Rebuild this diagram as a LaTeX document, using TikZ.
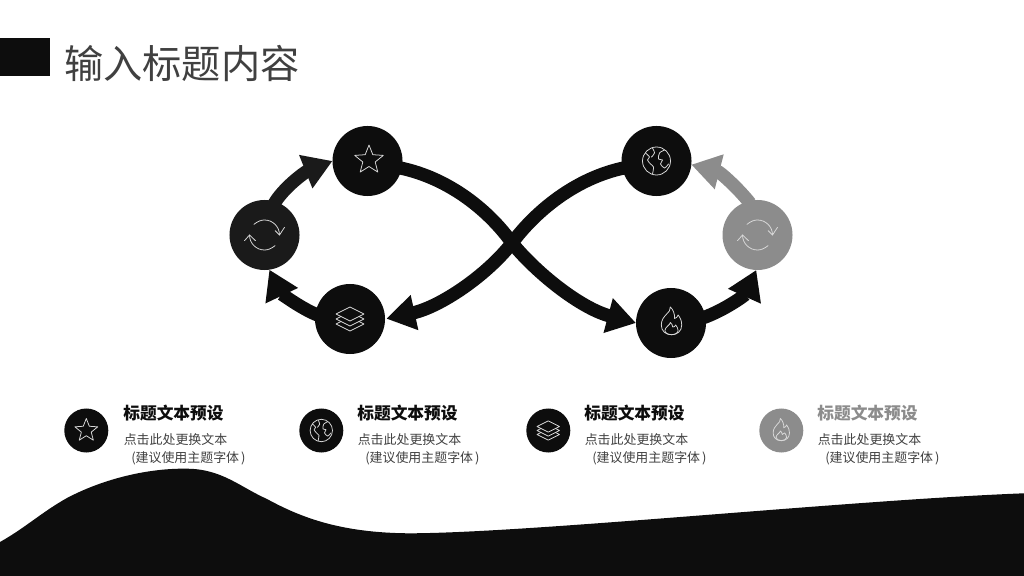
\documentclass[tikz,border=0pt]{standalone}
\usepackage{fontspec}
\setmainfont{Noto Sans CJK SC}
\usetikzlibrary{arrows.meta}
\definecolor{ink}{HTML}{0D0D0D}
\definecolor{inksoft}{HTML}{1A1A1A}
\definecolor{midgray}{HTML}{8C8C8C}
\definecolor{textgray}{HTML}{404040}
\tikzset{
	disc/.style={circle,fill=#1,minimum size=1.75cm,inner sep=0pt,outer sep=0pt},
	smalldisc/.style={circle,fill=#1,minimum size=1.1cm,inner sep=0pt,outer sep=0pt},
	loopline/.style={draw=#1,line width=.33cm,shorten <=-2pt,-{Triangle[length=.72cm,width=.85cm]}},
	bandline/.style={draw=ink,line width=.33cm,shorten <=-2pt},
	glyph/.style={draw=#1,line width=.55pt,line join=round,line cap=round},
	glyph/.default={white!85!black},
	pics/icostar/.style={code={
		\draw[glyph] (0,-15)--(3.8,-5.3)--(14.3,-4.6)--(6.2,2)--(8.8,12.1)--(0,6.5)--(-8.8,12.1)--(-6.2,2)--(-14.3,-4.6)--(-3.8,-5.3)--cycle;
	}},
	pics/icoloop/.style={code={
		\draw[glyph] (-10.6,-10.6) .. controls (-6.5,-14) and (-3,-15) .. (0,-15) .. controls (8.3,-15) and (15,-8.3) .. (15,0);
		\draw[glyph] (10.7,-4.3)--(15,0)--(20,-7.7);
		\draw[glyph] (10.6,10.6) .. controls (6.5,14) and (3,15) .. (0,15) .. controls (-8.3,15) and (-15,8.3) .. (-15,0);
		\draw[glyph] (-20,5.7)--(-15,0)--(-9,5.7);
	}},
	pics/icolayers/.style={code={
		\draw[glyph] (0,-12)--(14,-5)--(0,2)--(-14,-5)--cycle;
		\draw[glyph] (-9,-2.5)--(-14,0)--(0,7)--(14,0)--(9,-2.5);
		\draw[glyph] (-9,2.5)--(-14,5)--(0,12)--(14,5)--(9,2.5);
	}},
	pics/icoglobe/.style={code={
		\draw[glyph] (0,0) circle (14);
		\draw[glyph] plot[smooth] coordinates {(-11,-8) (-7,-4) (-9,-1) (-6,3) (-3,6) (-4,13)};
		\draw[glyph] plot[smooth] coordinates {(-4,-13) (-2,-8) (-5,-4)};
		\draw[glyph] plot[smooth] coordinates {(8,-11) (3,-8) (2,-2) (6,-1) (4,3) (8,7) (12,3)};
	}},
	pics/icoflame/.style={code={
		\begin{scope}[xscale=1.2]
		\draw[glyph] (-1,-15) .. controls (0,-9) and (-8.5,-7) .. (-8.5,3) .. controls (-8.5,9) and (-5,12.7) .. (0,12.7) .. controls (5,12.7) and (8.5,9) .. (8.5,3) .. controls (8.5,-1) and (7.5,-4) .. (5.5,-7) .. controls (5,-5) and (4,-4) .. (2.5,-3.5) .. controls (3,-8) and (1,-13) .. (-1,-15);
		\draw[glyph] (-1,0.5) .. controls (-1,3) and (-5.5,5) .. (-5.5,8.5) .. controls (-5.5,11) and (-3,12.7) .. (0,12.7) .. controls (3,12.7) and (5.5,11) .. (5.5,8.5) .. controls (5.5,6.5) and (4.5,4.5) .. (3.5,3) .. controls (3,4.5) and (2,5) .. (1,5) .. controls (1,3) and (0,1.5) .. (-1,0.5);
		\end{scope}
	}},
	headtext/.style={anchor=west,inner sep=0pt,font=\fontsize{11.9}{14}\selectfont\bfseries},
	bodytext/.style={anchor=west,inner sep=0pt,text=textgray,font=\fontsize{9.2}{11}\selectfont},
}
\begin{document}
\begin{tikzpicture}[x=.025cm,y=-.025cm]
	\useasboundingbox (0,0) rectangle (1024,576);
	% header
	\fill[ink] (0,38) rectangle (49.5,76);
	\node[anchor=west,inner sep=0pt,text=textgray,font=\fontsize{27.9}{32}\selectfont] (title) at (64,63.5) {输入标题内容};
	% bottom wave
	\fill[ink] (0,576)--(0,542) .. controls (25,528) and (42,512) .. (67,498) .. controls (105,478) and (150,468) .. (187,468.7) .. controls (222,469) and (240,487) .. (267,499) .. controls (300,517) and (340,533) .. (410,533.3) .. controls (530,533) and (850,500) .. (1024,493.3)--(1024,576)--cycle;
	% loop
	\node[disc=ink] (star) at (367.5,161) {};
	\node[disc=inksoft] (loopL) at (264.5,235) {};
	\node[disc=ink] (layers) at (350,319) {};
	\node[disc=ink] (globe) at (656.5,161) {};
	\node[disc=midgray] (loopR) at (757.5,235) {};
	\node[disc=ink] (flame) at (671,323) {};
	\coordinate (cross) at (512,243);
	\draw[bandline] (star.-12) .. controls (450,178) and (490,212) .. (cross);
	\draw[bandline] (globe.192) .. controls (575,178) and (535,212) .. (cross);
	\draw[loopline=ink] (cross) .. controls (535,272) and (580,308) .. (flame.180);
	\draw[loopline=ink,shorten >=1pt] (cross) .. controls (488,275) and (440,307) .. (layers.0);
	\draw[loopline=inksoft] (loopL.72) .. controls (283,188) and (305,172) .. (star.180);
	\draw[loopline=ink] (layers.172) .. controls (298,307) and (280,292) .. (loopL.-82);
	\draw[loopline=ink] (flame.10) .. controls (725,310) and (745,295) .. (loopR.-92);
	\draw[loopline=midgray] (loopR.105) .. controls (738,188) and (720,172) .. (globe.-6);
	\pic at (369,160) {icostar};
	\pic at (loopL) {icoloop};
	\pic at (layers) {icolayers};
	\pic at (globe) {icoglobe};
	\pic at (671.5,322) {icoflame};
	\pic at (loopR) {icoloop};
	% legend
	\foreach \i/\cx/\tx/\ic/\fc/\hc in {1/86.3/123/icostar/ink/ink,2/321.3/357/icoglobe/ink/ink,3/548.3/584/icolayers/ink/ink,4/781.3/817/icoflame/midgray/midgray}{
		\node[smalldisc=\fc] (mark\i) at (\cx,430.5) {};
		\pic[scale=.8] at (mark\i) {\ic};
		\node[headtext,text=\hc] (head\i) at (\tx,413) {标题文本预设};
		\node[bodytext] (lineA\i) at (\tx+.5,440) {点击此处更换文本};
		\node[bodytext] (lineB\i) at (\tx+8,458) {(建议使用主题字体\kern1.4pt)};
	}
\end{tikzpicture}
\end{document}
